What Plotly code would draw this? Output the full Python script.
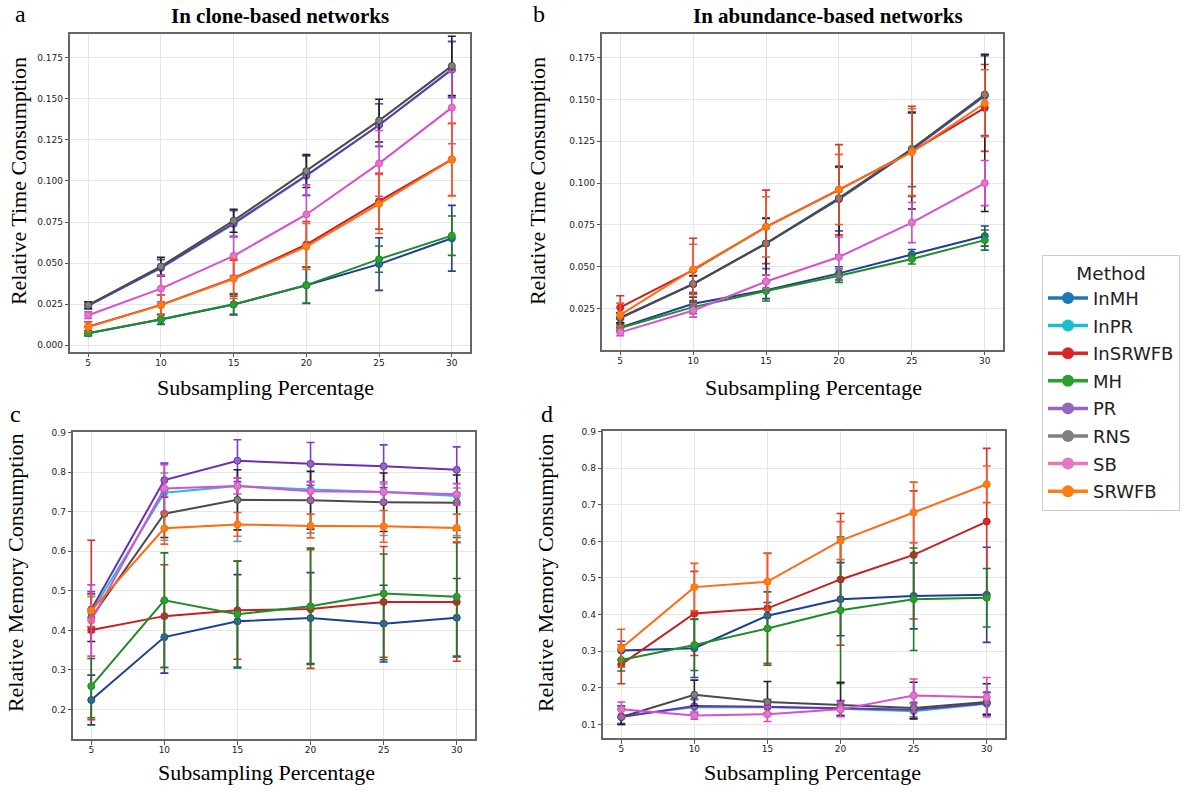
import plotly.graph_objects as go

W, H = 1200, 793
TXT_DY = -5         # visual-centre correction for horizontal serif annotations
TXT_DX_ROT = -1     # same for rotated annotations

methods = ["InMH", "InPR", "InSRWFB", "MH", "PR", "RNS", "SB", "SRWFB"]
subsampling = [5, 10, 15, 20, 25, 30]

# ---- Panel a: relative time, clone-based networks ----
clone_time = {
    "InMH":    [0.0073, 0.0157, 0.0248, 0.0365, 0.0494, 0.0651],
    "InPR":    [0.0240, 0.0470, 0.0738, 0.1030, 0.1340, 0.1675],
    "InSRWFB": [0.0113, 0.0246, 0.0408, 0.0613, 0.0877, 0.1131],
    "MH":      [0.0073, 0.0158, 0.0249, 0.0366, 0.0524, 0.0667],
    "PR":      [0.0242, 0.0472, 0.0742, 0.1034, 0.1340, 0.1680],
    "RNS":     [0.0244, 0.0480, 0.0758, 0.1060, 0.1367, 0.1700],
    "SB":      [0.0183, 0.0345, 0.0544, 0.0796, 0.1107, 0.1446],
    "SRWFB":   [0.0112, 0.0244, 0.0405, 0.0601, 0.0860, 0.1129],
}
clone_time_err = {
    "InMH":    [0.0015, 0.003, 0.006, 0.011, 0.016, 0.020],
    "InPR":    [0.002, 0.005, 0.008, 0.012, 0.013, 0.017],
    "InSRWFB": [0.003, 0.006, 0.011, 0.014, 0.017, 0.022],
    "MH":      [0.0015, 0.003, 0.0065, 0.011, 0.008, 0.012],
    "PR":      [0.002, 0.005, 0.008, 0.012, 0.013, 0.017],
    "RNS":     [0.002, 0.0055, 0.007, 0.010, 0.013, 0.018],
    "SB":      [0.002, 0.008, 0.012, 0.018, 0.020, 0.022],
    "SRWFB":   [0.003, 0.006, 0.012, 0.014, 0.018, 0.022],
}

# ---- Panel b: relative time, abundance-based networks ----
abund_time = {
    "InMH":    [0.0137, 0.0278, 0.0359, 0.0460, 0.0573, 0.0683],
    "InPR":    [0.0193, 0.0395, 0.0638, 0.0903, 0.1198, 0.1520],
    "InSRWFB": [0.0256, 0.0480, 0.0738, 0.0960, 0.1190, 0.1450],
    "MH":      [0.0133, 0.0258, 0.0355, 0.0446, 0.0546, 0.0659],
    "PR":      [0.0193, 0.0395, 0.0639, 0.0905, 0.1200, 0.1525],
    "RNS":     [0.0195, 0.0397, 0.0640, 0.0910, 0.1205, 0.1530],
    "SB":      [0.0107, 0.0238, 0.0411, 0.0558, 0.0764, 0.1000],
    "SRWFB":   [0.0212, 0.0484, 0.0738, 0.0962, 0.1185, 0.1478],
}
abund_time_err = {
    "InMH":    [0.002, 0.004, 0.005, 0.004, 0.003, 0.006],
    "InPR":    [0.003, 0.005, 0.015, 0.019, 0.022, 0.024],
    "InSRWFB": [0.007, 0.019, 0.022, 0.027, 0.027, 0.026],
    "MH":      [0.002, 0.004, 0.006, 0.004, 0.003, 0.006],
    "PR":      [0.003, 0.005, 0.015, 0.019, 0.022, 0.024],
    "RNS":     [0.003, 0.005, 0.015, 0.019, 0.022, 0.024],
    "SB":      [0.002, 0.004, 0.004, 0.012, 0.012, 0.0135],
    "SRWFB":   [0.007, 0.015, 0.018, 0.021, 0.026, 0.020],
}
abund_time_err_minus = {
    "RNS":     [0.003, 0.006, 0.019, 0.034, 0.036, 0.070],
}

# ---- Panel c: relative memory, clone-based networks ----
clone_mem = {
    "InMH":    [0.224, 0.383, 0.423, 0.431, 0.417, 0.432],
    "InPR":    [0.445, 0.748, 0.765, 0.756, 0.750, 0.740],
    "InSRWFB": [0.401, 0.436, 0.451, 0.454, 0.472, 0.472],
    "MH":      [0.259, 0.476, 0.441, 0.461, 0.493, 0.485],
    "PR":      [0.453, 0.780, 0.829, 0.821, 0.815, 0.806],
    "RNS":     [0.432, 0.695, 0.730, 0.729, 0.724, 0.723],
    "SB":      [0.425, 0.759, 0.765, 0.752, 0.750, 0.744],
    "SRWFB":   [0.450, 0.658, 0.668, 0.664, 0.663, 0.659],
}
clone_mem_err = {
    "InMH":    [0.063, 0.091, 0.118, 0.115, 0.097, 0.099],
    "InPR":    [0.040, 0.050, 0.020, 0.020, 0.020, 0.020],
    "InSRWFB": [0.227, 0.130, 0.124, 0.150, 0.140, 0.150],
    "MH":      [0.070, 0.120, 0.134, 0.147, 0.100, 0.150],
    "PR":      [0.045, 0.043, 0.053, 0.054, 0.054, 0.058],
    "RNS":     [0.060, 0.060, 0.076, 0.073, 0.074, 0.070],
    "SB":      [0.090, 0.060, 0.020, 0.024, 0.025, 0.027],
    "SRWFB":   [0.040, 0.040, 0.030, 0.030, 0.040, 0.035],
}
clone_mem_err_minus = {
    "InPR":    [0.050, 0.120, 0.140, 0.110, 0.110, 0.100],
    "MH":      [0.080, 0.170, 0.134, 0.147, 0.167, 0.150],
}

# ---- Panel d: relative memory, abundance-based networks ----
abund_mem = {
    "InMH":    [0.302, 0.308, 0.397, 0.442, 0.451, 0.454],
    "InPR":    [0.123, 0.147, 0.147, 0.143, 0.136, 0.156],
    "InSRWFB": [0.264, 0.403, 0.417, 0.496, 0.563, 0.654],
    "MH":      [0.276, 0.317, 0.362, 0.412, 0.442, 0.446],
    "PR":      [0.120, 0.150, 0.148, 0.145, 0.140, 0.158],
    "RNS":     [0.120, 0.181, 0.161, 0.152, 0.145, 0.161],
    "SB":      [0.141, 0.124, 0.128, 0.141, 0.179, 0.174],
    "SRWFB":   [0.308, 0.475, 0.490, 0.602, 0.679, 0.756],
}
abund_mem_err = {
    "InMH":    [0.025, 0.080, 0.036, 0.100, 0.090, 0.130],
    "InPR":    [0.020, 0.020, 0.020, 0.020, 0.020, 0.030],
    "InSRWFB": [0.053, 0.115, 0.150, 0.180, 0.175, 0.200],
    "MH":      [0.030, 0.070, 0.100, 0.200, 0.140, 0.080],
    "PR":      [0.020, 0.020, 0.020, 0.020, 0.020, 0.030],
    "RNS":     [0.030, 0.040, 0.056, 0.063, 0.070, 0.050],
    "SB":      [0.020, 0.010, 0.020, 0.020, 0.045, 0.054],
    "SRWFB":   [0.052, 0.065, 0.078, 0.052, 0.083, 0.050],
}
abund_mem_err_minus = {
    "RNS":     [0.020, 0.030, 0.030, 0.030, 0.030, 0.035],
}

legend_colors = {
    "InMH": "#1f77b4", "InPR": "#17becf", "InSRWFB": "#d62728", "MH": "#2ca02c",
    "PR": "#9467bd", "RNS": "#7f7f7f", "SB": "#e377c2", "SRWFB": "#ff7f0e",
}
line_colors = {
    "InMH": "#1c3f94", "InPR": "#1fc0d8", "InSRWFB": "#c81e1e", "MH": "#1e8c28",
    "PR": "#6b2fb3", "RNS": "#4a4a4a", "SB": "#d94fcf", "SRWFB": "#ff6a13",
}
err_colors = {
    "InMH": "#2a3d8f", "InPR": "#6a9fb5", "InSRWFB": "#e03020", "MH": "#1e7a28",
    "PR": "#7a3fbf", "RNS": "#222222", "SB": "#d646c8", "SRWFB": "#f05a28",
}


def px(x):
    return x / W


def py(y):
    return 1 - y / H


fig = go.Figure()

panels = [
    (clone_time, clone_time_err, {}, "", (70, 470), (30, 350), [-0.00424, 0.1895],
     [0, 0.025, 0.05, 0.075, 0.1, 0.125, 0.15, 0.175], ".3f"),
    (abund_time, abund_time_err, abund_time_err_minus, "2", (602, 1003), (30, 348), [0.0, 0.1893],
     [0.025, 0.05, 0.075, 0.1, 0.125, 0.15, 0.175], ".3f"),
    (clone_mem, clone_mem_err, clone_mem_err_minus, "3", (73, 475), (430, 739), [0.1247, 0.902],
     [0.2, 0.3, 0.4, 0.5, 0.6, 0.7, 0.8, 0.9], ".1f"),
    (abund_mem, abund_mem_err, abund_mem_err_minus, "4", (603, 1005), (429, 738), [0.062, 0.902],
     [0.1, 0.2, 0.3, 0.4, 0.5, 0.6, 0.7, 0.8, 0.9], ".1f"),
]

axis_common = dict(
    showline=True, mirror=True, linecolor="#666666", linewidth=1.5,
    showgrid=True, gridcolor="#e6e6e6", gridwidth=1, zeroline=False,
    ticks="outside", ticklen=3.5, tickcolor="#555555", tickwidth=1,
    tickfont=dict(family="DejaVu Sans", size=9, color="#222222"),
)

for means, errs, errs_minus, suf, xd, yd, yr, yticks, fmt in panels:
    for m in methods:
        ey = dict(type="data", array=errs[m], color=err_colors[m], thickness=1.6, width=4)
        if m in errs_minus:
            ey["symmetric"] = False
            ey["arrayminus"] = errs_minus[m]
        fig.add_trace(go.Scatter(
            x=subsampling, y=means[m], mode="lines+markers", name=m,
            legendgroup=m, showlegend=False,
            line=dict(color=line_colors[m], width=2),
            marker=dict(color=legend_colors[m], size=7,
                        line=dict(color=line_colors[m], width=1)),
            error_y=ey,
            xaxis="x" + suf, yaxis="y" + suf,
        ))
    xa = dict(axis_common, domain=[px(xd[0]), px(xd[1])], range=[3.75, 31.25],
              tickvals=subsampling, anchor="y" + suf, ticklabelstandoff=-2)
    ya = dict(axis_common, domain=[py(yd[1]), py(yd[0])], range=yr,
              tickvals=yticks, tickformat=fmt, anchor="x" + suf)
    fig.update_layout(**{"xaxis" + suf: xa, "yaxis" + suf: ya})

# legend-only entries
for m in methods:
    fig.add_trace(go.Scatter(
        x=[None], y=[None], mode="lines+markers", name=m, legendgroup=m,
        showlegend=True, line=dict(color=legend_colors[m], width=3.5),
        marker=dict(color=legend_colors[m], size=12),
    ))

serif = "Liberation Serif"
ann = []


def add_text(text, x, y, size, bold=False, angle=0):
    dx, dy = (0, TXT_DY) if angle == 0 else (TXT_DX_ROT, 0)
    ann.append(dict(
        text=("<b>%s</b>" % text) if bold else text,
        x=px(x + dx), y=py(y + dy), xref="paper", yref="paper",
        showarrow=False, xanchor="center", yanchor="middle", textangle=angle,
        font=dict(family=serif, size=size, color="#000000"),
    ))


add_text("In clone-based networks", 280, 17, 21, bold=True)
add_text("In abundance-based networks", 828, 17, 21, bold=True)
add_text("a", 20, 15, 24)
add_text("b", 539, 15, 24)
add_text("c", 15, 417, 24)
add_text("d", 547, 417, 24)
add_text("Relative Time Consumption", 19, 178, 22, angle=-90)
add_text("Relative Time Consumption", 538, 178, 22, angle=-90)
add_text("Relative Memory Consumption", 16, 572, 22, angle=-90)
add_text("Relative Memory Consumption", 546, 572, 22, angle=-90)
add_text("Subsampling Percentage", 265, 390, 22)
add_text("Subsampling Percentage", 813, 390, 22)
add_text("Subsampling Percentage", 266, 777, 22)
add_text("Subsampling Percentage", 812, 777, 22)

fig.update_layout(
    width=W, height=H,
    margin=dict(l=0, r=0, t=0, b=0),
    paper_bgcolor="white", plot_bgcolor="white",
    annotations=ann,
    showlegend=True,
    legend=dict(
        x=px(1042), y=py(252), xanchor="left", yanchor="top",
        bgcolor="white", bordercolor="#cccccc", borderwidth=1,
        font=dict(family="DejaVu Sans", size=18, color="#222222"),
        title=dict(text="Method", side="top center",
                   font=dict(family="DejaVu Sans", size=18.5, color="#222222")),
        tracegroupgap=1.2, itemwidth=40,
    ),
)

fig.write_html(
    "out.html",
    config={"displayModeBar": False},
    post_script="document.body.style.margin='0px';document.body.style.overflow='hidden';",
)
